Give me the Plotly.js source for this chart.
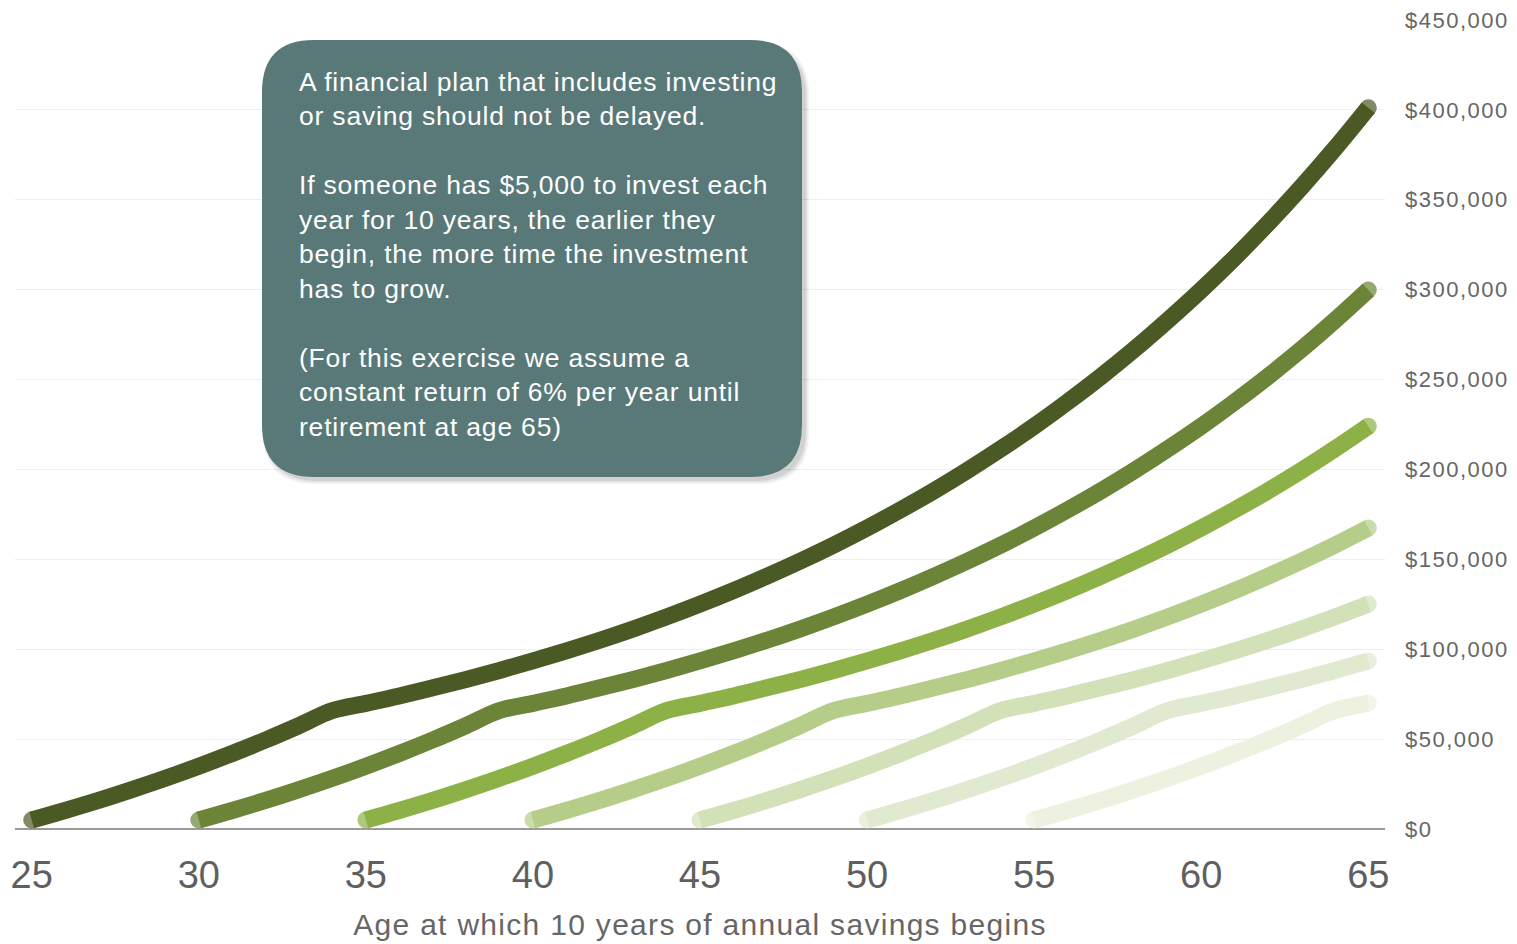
<!DOCTYPE html>
<html>
<head>
<meta charset="utf-8">
<script src="https://cdn.plot.ly/plotly-3.0.1.min.js"></script>
<style>
  html, body { margin: 0; padding: 0; background: #ffffff; }
  #chart { width: 1517px; height: 944px; }
  #chart .annotation-text { letter-spacing: 0.8px; }
  #chart .ytick text { letter-spacing: 1.5px; }
  #chart .xtitle { letter-spacing: 1.3px; }
</style>
</head>
<body>
<div id="chart"></div>
<script>
// Start ages of the seven savings plans
const startAges = [25, 30, 35, 40, 45, 50, 55];
// Account balance by years since saving began (same curve for every plan)
const balanceByYear = [5000, 10300, 15900, 21900, 28200, 34900, 42000, 49500, 57500, 65900,
  69900, 74000, 78500, 83200, 88200, 93500, 99100, 105000, 111300, 118000,
  125100, 132600, 140600, 149000, 157900, 167400, 177500, 188100, 199400, 211400,
  224000, 237500, 251700, 266800, 282900, 299800, 317800, 336900, 357100, 378500, 401200];
const retirementAge = 65;
const seriesColors = ['#4b5a24', '#6b8437', '#8db146', '#b5cd88', '#d3e1b8', '#e1e9d1', '#ecf1e0'];
const xTicks = [25, 30, 35, 40, 45, 50, 55, 60, 65];
const yTicks = [0, 50000, 100000, 150000, 200000, 250000, 300000, 350000, 400000, 450000];
const xTitle = 'Age at which 10 years of annual savings begins';
const boxText = 'A financial plan that includes investing<br>or saving should not be delayed.<br> <br>' +
  'If someone has $5,000 to invest each<br>year for 10 years, the earlier they<br>begin, the more time the investment<br>has to grow.<br> <br>' +
  '(For this exercise we assume a<br>constant return of 6% per year until<br>retirement at age 65)';

const FONT = 'Liberation Sans, Arial, sans-serif';
const W = 1517, H = 944;
const M = { l: 15, r: 132, t: 20, b: 115 };
const PW = W - M.l - M.r, PH = H - M.t - M.b;
const px = x => (x - M.l) / PW;
const py = y => (M.t + PH - y) / PH;

function roundedRect(x0, y0, x1, y1, r) {
  return 'M ' + px(x0 + r) + ',' + py(y0) +
    ' L ' + px(x1 - r) + ',' + py(y0) +
    ' Q ' + px(x1) + ',' + py(y0) + ' ' + px(x1) + ',' + py(y0 + r) +
    ' L ' + px(x1) + ',' + py(y1 - r) +
    ' Q ' + px(x1) + ',' + py(y1) + ' ' + px(x1 - r) + ',' + py(y1) +
    ' L ' + px(x0 + r) + ',' + py(y1) +
    ' Q ' + px(x0) + ',' + py(y1) + ' ' + px(x0) + ',' + py(y1 - r) +
    ' L ' + px(x0) + ',' + py(y0 + r) +
    ' Q ' + px(x0) + ',' + py(y0) + ' ' + px(x0 + r) + ',' + py(y0) + ' Z';
}

const traces = [];
startAges.slice().reverse().forEach((age, ri) => {
  const i = startAges.length - 1 - ri;
  const n = retirementAge - age + 1;
  const xs = [], ys = [], sizes = [];
  for (let k = 0; k < n; k++) {
    xs.push(age + k);
    ys.push(balanceByYear[k]);
    sizes.push(k === 0 || k === n - 1 ? 17 : 0);
  }
  traces.push({
    x: xs, y: ys, type: 'scatter', mode: 'lines+markers',
    line: { color: seriesColors[i], width: 17, shape: 'spline', smoothing: 1 },
    marker: { color: seriesColors[i], size: sizes, line: { width: 0 } },
    hoverinfo: 'x+y', showlegend: false
  });
});

const shapes = [];
// soft shadow layers
[[10, 0.05], [7, 0.06], [4, 0.08]].forEach(([s, o]) => {
  shapes.push({ type: 'path', xref: 'paper', yref: 'paper', layer: 'above',
    path: roundedRect(262 + 6 - s / 2, 40 + 8 - s / 2, 802 + 2 + s / 2, 477 + 2 + s / 2, 52),
    fillcolor: 'rgba(0,0,0,' + o + ')', line: { width: 0 } });
});
shapes.push({ type: 'path', xref: 'paper', yref: 'paper', layer: 'above',
  path: roundedRect(262, 40, 802, 477, 52),
  fillcolor: '#597878', line: { width: 0 } });

const layout = {
  width: W, height: H,
  margin: M,
  paper_bgcolor: '#ffffff', plot_bgcolor: '#ffffff',
  font: { family: FONT, color: '#666666' },
  showlegend: false,
  xaxis: {
    range: [24.5, 65.5], tickvals: xTicks, ticks: '',
    showgrid: false, zeroline: false, showline: false,
    tickfont: { size: 38, color: '#5f5f5f', family: FONT },
    ticklabelstandoff: 20,
    title: { text: xTitle, font: { size: 30, color: '#666666', family: FONT }, standoff: 18 }
  },
  yaxis: {
    range: [0, 450000], tickvals: yTicks, tickformat: '$,.0f', side: 'right',
    ticks: '', showgrid: true, gridcolor: '#eeeeee', gridwidth: 1,
    zeroline: true, zerolinecolor: '#9a9a9a', zerolinewidth: 2, showline: false,
    tickfont: { size: 22, color: '#666666', family: FONT },
    ticklabelstandoff: 19
  },
  shapes: shapes,
  annotations: [{
    xref: 'paper', yref: 'paper', x: px(297), y: py(65),
    xanchor: 'left', yanchor: 'top', align: 'left', showarrow: false,
    text: boxText, font: { size: 26.5, color: '#ffffff', family: FONT }
  }]
};

Plotly.newPlot('chart', traces, layout, { displayModeBar: false, staticPlot: true });
</script>
</body>
</html>
